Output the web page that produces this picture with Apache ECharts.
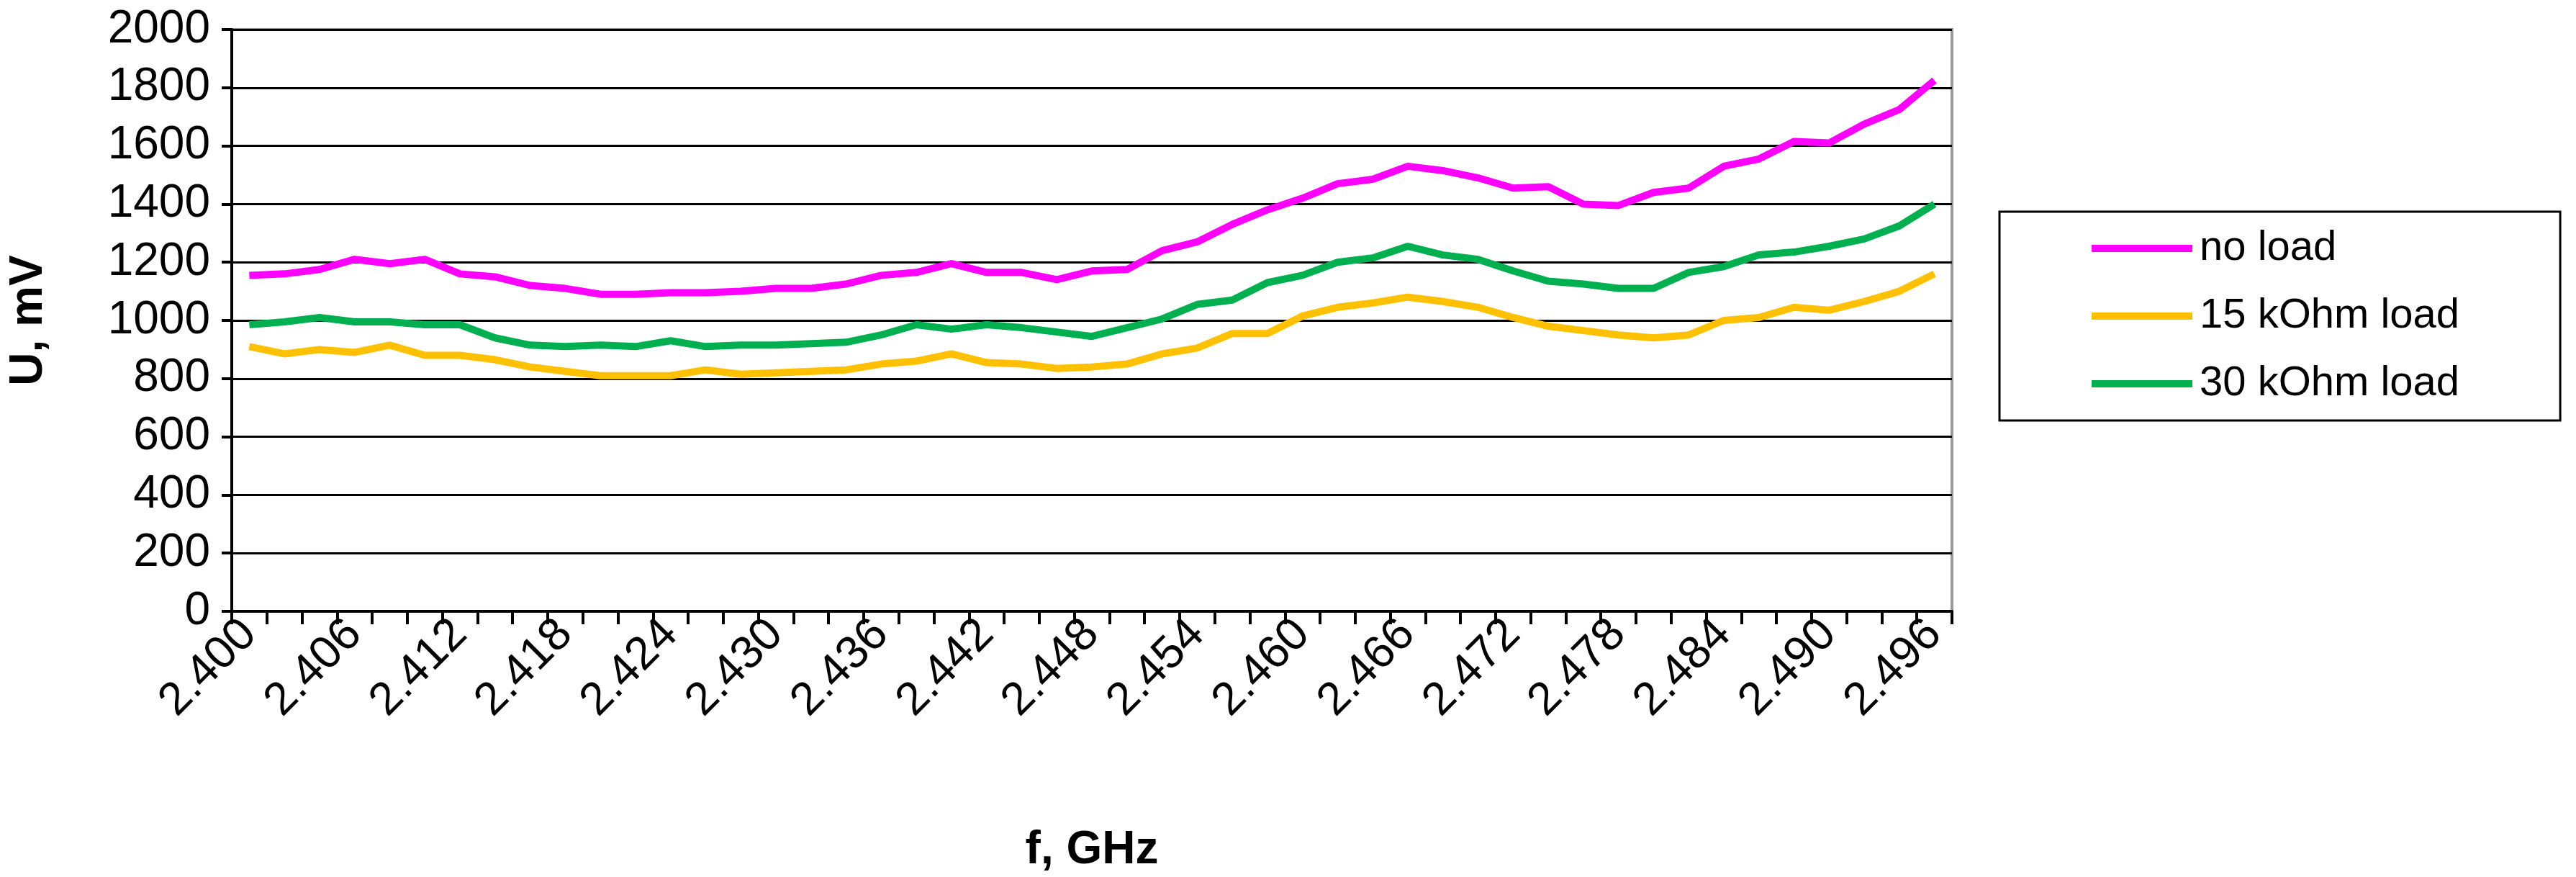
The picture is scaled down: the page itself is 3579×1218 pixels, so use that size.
<!DOCTYPE html>
<html><head><meta charset="utf-8">
<script src="https://cdn.jsdelivr.net/npm/echarts@6/dist/echarts.min.js"></script>
<style>html,body{margin:0;padding:0;background:#fff}#c{width:3579px;height:1218px}</style>
</head><body><div id="c"></div>
<script>
const categories = [];
for (let i = 0; i < 49; i++) categories.push((2.400 + i * 0.002).toFixed(3));
const noLoad = [1155,1160,1175,1210,1195,1210,1160,1150,1120,1110,1090,1090,1095,1095,1100,1110,1110,1125,1155,1165,1195,1165,1165,1140,1170,1175,1240,1270,1330,1380,1420,1470,1485,1530,1515,1490,1455,1460,1400,1395,1440,1455,1530,1555,1615,1610,1675,1725,1825];
const load15 = [910,885,900,890,915,880,880,865,840,825,810,810,810,830,815,820,825,830,850,860,885,855,850,835,840,850,885,905,955,955,1015,1045,1060,1080,1065,1045,1010,980,965,950,940,950,1000,1010,1045,1035,1065,1100,1160];
const load30 = [985,995,1010,995,995,985,985,940,915,910,915,910,930,910,915,915,920,925,950,985,970,985,975,960,945,975,1005,1055,1070,1130,1155,1200,1215,1255,1225,1210,1170,1135,1125,1110,1110,1165,1185,1225,1235,1255,1280,1325,1400];
const yTicks = [0,200,400,600,800,1000,1200,1400,1600,1800,2000];

const font = 'Liberation Sans, Arial, sans-serif';
const chart = echarts.init(document.getElementById('c'));
const mk = (name, data, color) => ({name, type:'line', data, symbol:'none', lineStyle:{color, width:10}, itemStyle:{color}});
chart.setOption({
  animation:false,
  grid:{left:320, right:867, top:41, bottom:342, show:true, borderColor:'#999', borderWidth:4},
  legend:{orient:'vertical', left:2778, top:294,
    borderColor:'#000', borderWidth:3, padding:[22,140,22,128], itemGap:36,
    itemWidth:140, itemHeight:10, icon:'rect',
    textStyle:{fontFamily:font, fontSize:58, color:'#000', padding:[0,0,0,5]},
    data:['no load','15 kOhm load','30 kOhm load']},
  xAxis:{type:'category', data:categories, boundaryGap:true,
    name:'f, GHz', nameLocation:'middle', nameGap:300,
    nameTextStyle:{fontFamily:font, fontSize:64, fontWeight:'bold', color:'#000'},
    axisLine:{lineStyle:{color:'#000', width:4}},
    axisTick:{show:true, interval:0, length:18, lineStyle:{color:'#000', width:4}},
    axisLabel:{interval:2, rotate:45, fontFamily:font, fontSize:64, color:'#000', margin:22}},
  yAxis:{type:'value', min:0, max:2000, interval:200,
    name:'U, mV', nameLocation:'middle', nameGap:250, nameRotate:90,
    nameTextStyle:{fontFamily:font, fontSize:64, fontWeight:'bold', color:'#000'},
    axisLine:{show:true, lineStyle:{color:'#000', width:4}},
    axisTick:{show:true, length:14, lineStyle:{color:'#000', width:4}},
    axisLabel:{fontFamily:font, fontSize:64, color:'#000', margin:30,
      formatter:v => yTicks.includes(v) ? String(v) : ''},
    splitLine:{lineStyle:{color:'#000', width:3}}},
  series:[mk('no load', noLoad, '#ff00ff'), mk('15 kOhm load', load15, '#ffc000'), mk('30 kOhm load', load30, '#00b050')]
});
</script></body></html>
